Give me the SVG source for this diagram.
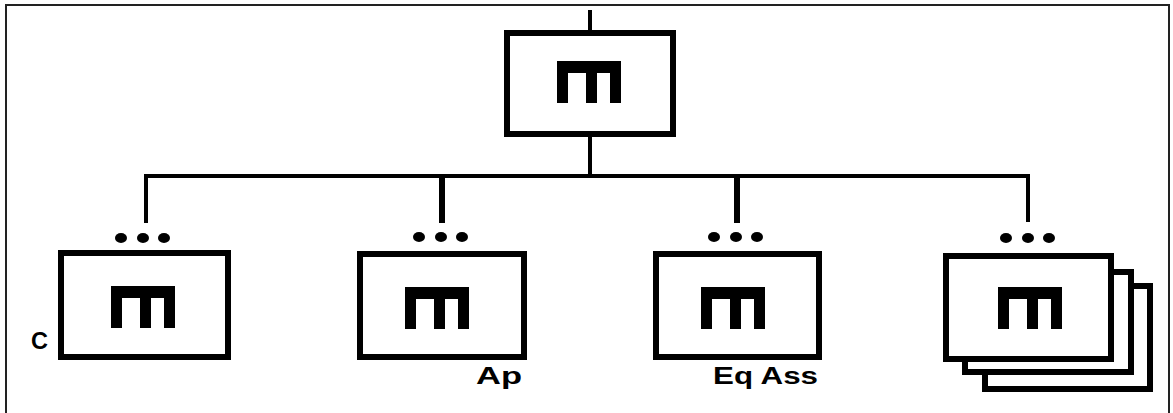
<svg xmlns="http://www.w3.org/2000/svg" xmlns:xlink="http://www.w3.org/1999/xlink" width="1173" height="413" viewBox="0 0 1173 413">
  <style>
    .box { fill: #fff; stroke: #000; stroke-width: 6; }
    .line { stroke: #000; stroke-width: 4; fill: none; }
    .thick { stroke-width: 6; }
    .dot { fill: #000; }
    .lbl { font-family: "Liberation Sans", Arial, sans-serif; font-weight: bold; font-size: 23px; fill: #000; }
  </style>
  <defs>
    <symbol id="icon" overflow="visible">
      <path d="M0,0 H64 V42 H53 V12 H40 V42 H29 V12 H11 V42 H0 Z" fill="#000"/>
    </symbol>
    <g id="dots">
      <ellipse cx="-22" cy="0" rx="6" ry="5" class="dot"/>
      <ellipse cx="0" cy="0" rx="6" ry="5" class="dot"/>
      <ellipse cx="21" cy="0" rx="6" ry="5" class="dot"/>
    </g>
  </defs>
  <rect width="1173" height="413" fill="#fff"/>
  <path d="M6,420 V5 H1169 V420" fill="none" stroke="#222" stroke-width="2"/>

  <g id="connectors">
    <line class="line" x1="590" y1="10" x2="590" y2="31"/>
    <line class="line" x1="590" y1="136" x2="590" y2="178"/>
    <polyline class="line" points="146,223 146,176 1028,176 1028,222"/>
    <line class="line thick" x1="442" y1="176" x2="442" y2="223"/>
    <line class="line thick" x1="737" y1="176" x2="737" y2="223"/>
  </g>

  <g id="top">
    <rect class="box" x="507" y="33" width="166" height="101"/>
    <use xlink:href="#icon" x="557" y="61"/>
  </g>

  <g id="node-c">
    <use xlink:href="#dots" x="143" y="238"/>
    <rect class="box" x="61" y="253" width="167" height="104"/>
    <use xlink:href="#icon" x="111" y="286"/>
    <text class="lbl" x="31" y="349" textLength="17" lengthAdjust="spacingAndGlyphs">C</text>
  </g>

  <g id="node-ap">
    <use xlink:href="#dots" x="441" y="237"/>
    <rect class="box" x="360" y="254" width="164" height="103"/>
    <use xlink:href="#icon" x="405" y="287"/>
    <text class="lbl" x="476" y="384" textLength="46" lengthAdjust="spacingAndGlyphs">Ap</text>
  </g>

  <g id="node-eqass">
    <use xlink:href="#dots" x="736" y="237"/>
    <rect class="box" x="656" y="254" width="163" height="103"/>
    <use xlink:href="#icon" x="701" y="287"/>
    <text class="lbl" x="713" y="384" textLength="105" lengthAdjust="spacingAndGlyphs">Eq Ass</text>
  </g>

  <g id="node-stack">
    <use xlink:href="#dots" x="1028" y="238"/>
    <rect class="box" x="985" y="286" width="165" height="103"/>
    <rect class="box" x="965" y="272" width="166" height="100"/>
    <rect class="box" x="946" y="256" width="165" height="103"/>
    <use xlink:href="#icon" x="998" y="287"/>
  </g>
</svg>
